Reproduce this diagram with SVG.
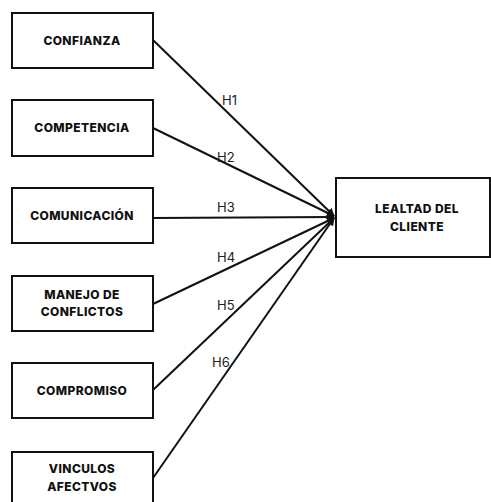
<svg xmlns="http://www.w3.org/2000/svg" width="491" height="502" viewBox="0 0 491 502">
<style>
.box{fill:#fff;stroke:#111;stroke-width:2}
.lbl{font-family:Inter,"Noto Sans",sans-serif;font-weight:800;font-size:12px;letter-spacing:0.4px;fill:#111;text-anchor:middle}
.h{font-family:Inter,"Liberation Sans",sans-serif;font-size:13px;fill:#222}
.c{stroke:#111;stroke-width:2;fill:none;marker-end:url(#ah)}
</style>
<defs>
<marker id="ah" viewBox="0 0 10 10" refX="9" refY="5" markerWidth="4" markerHeight="4" orient="auto" markerUnits="strokeWidth">
<path d="M0,0 L10,5 L0,10 z" fill="#111"/>
</marker>
</defs>
<rect width="491" height="502" fill="#fff"/>
<g id="connectors">
<line class="c" x1="153" y1="40" x2="334" y2="216"/>
<line class="c" x1="153" y1="128" x2="334" y2="216"/>
<line class="c" x1="153" y1="218" x2="334" y2="217"/>
<line class="c" x1="153" y1="304" x2="334" y2="218"/>
<line class="c" x1="153" y1="390" x2="334" y2="218"/>
<line class="c" x1="153" y1="478" x2="334" y2="218"/>
<text class="h" x="222" y="105">H1</text>
<text class="h" x="217" y="162">H2</text>
<text class="h" x="217" y="212">H3</text>
<text class="h" x="217" y="262">H4</text>
<text class="h" x="217" y="310">H5</text>
<text class="h" x="212" y="367">H6</text>
</g>
<g id="confianza"><rect class="box" x="12" y="13" width="141" height="55"/><text class="lbl" x="82" y="45">CONFIANZA</text></g>
<g id="competencia"><rect class="box" x="12" y="100" width="141" height="56"/><text class="lbl" x="82" y="132">COMPETENCIA</text></g>
<g id="comunicacion"><rect class="box" x="12" y="188" width="141" height="55"/><text class="lbl" x="82" y="220">COMUNICACIÓN</text></g>
<g id="manejo"><rect class="box" x="12" y="276" width="141" height="55"/><text class="lbl" x="82" y="299">MANEJO DE</text><text class="lbl" x="82" y="316">CONFLICTOS</text></g>
<g id="compromiso"><rect class="box" x="12" y="363" width="141" height="55"/><text class="lbl" x="82" y="395">COMPROMISO</text></g>
<g id="vinculos"><rect class="box" x="12" y="452" width="141" height="55"/><text class="lbl" x="82" y="473">VINCULOS</text><text class="lbl" x="82" y="491">AFECTVOS</text></g>
<g id="lealtad"><rect class="box" x="336" y="178" width="154" height="79"/><text class="lbl" x="417" y="213">LEALTAD DEL</text><text class="lbl" x="417" y="231">CLIENTE</text></g>
</svg>
